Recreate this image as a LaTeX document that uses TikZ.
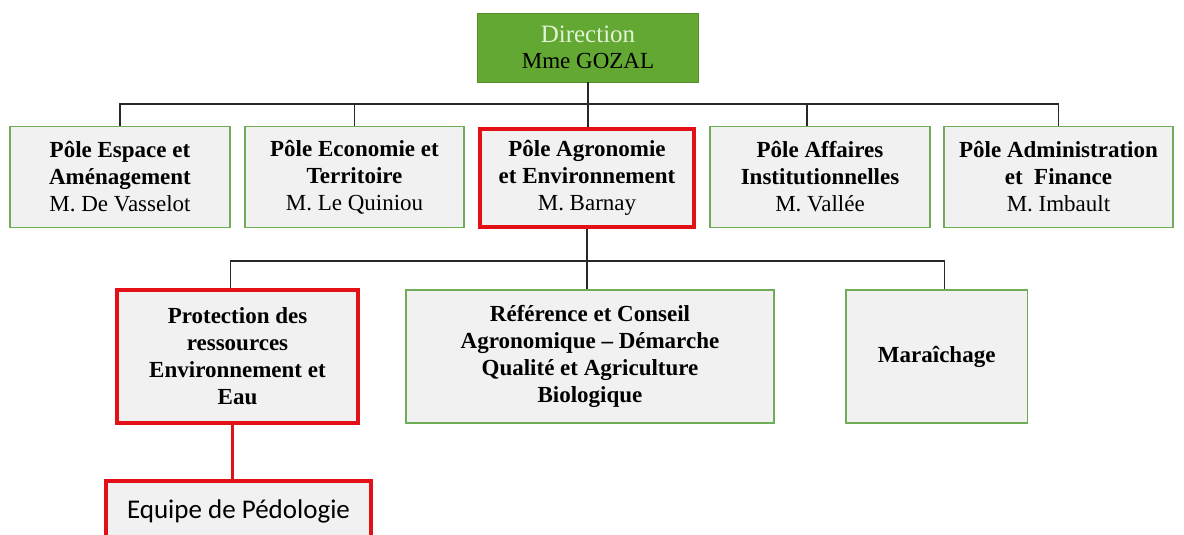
\documentclass[tikz,border=0pt]{standalone}
\usepackage{fontspec}
\setmainfont{Liberation Serif}
\newfontfamily\calibri{Carlito}
\definecolor{dirgreen}{RGB}{100,168,52}
\definecolor{dirtext}{RGB}{226,242,212}
\definecolor{boxgreen}{RGB}{110,172,88}
\definecolor{boxfill}{RGB}{241,241,241}
\definecolor{framered}{RGB}{228,16,24}
\definecolor{busgray}{RGB}{40,40,40}

\begin{document}
\begin{tikzpicture}[x=1pt,y=-1pt,
  every node/.style={black,align=center,inner sep=0pt,font=\fontsize{23}{27}\selectfont},
  dirbox/.style={fill=dirgreen,draw=dirgreen!85!black,line width=0.8pt,minimum width=221pt,minimum height=69pt},
  pole/.style={draw=boxgreen,line width=1.2pt,fill=boxfill,minimum height=101pt},
  service/.style={pole,minimum height=133pt},
  framed/.style={draw=framered,line width=4pt,fill=boxfill},
  link/.style={draw=busgray,line width=1.4pt},
  redlink/.style={draw=framered,line width=3pt}]
\useasboundingbox (0,0) rectangle (1184,535);

\node[dirbox] (dir) at (588,47.5) {{\fontsize{25}{26}\selectfont\color{dirtext}Direction}\\[-1pt]Mme GOZAL};

\node[pole,minimum width=220pt] (espace) at (120,177) {\textbf{Pôle Espace et}\\\textbf{Aménagement}\\M. De Vasselot};
\node[pole,minimum width=219pt] (eco) at (354.5,177) {\textbf{Pôle Economie et}\\\textbf{Territoire}\\M. Le Quiniou};
\node[framed,minimum width=214pt,minimum height=98pt] (agro) at (587,177.5) {\textbf{Pôle Agronomie}\\\textbf{et Environnement}\\M. Barnay};
\node[pole,minimum width=220pt] (aff) at (820,177) {\textbf{Pôle Affaires}\\\textbf{Institutionnelles}\\M. Vallée};
\node[pole,minimum width=229pt] (adm) at (1058.5,177) {\textbf{Pôle Administration}\\\textbf{et~~Finance}\\M. Imbault};

\node[framed,minimum width=241pt,minimum height=133pt] (prot) at (237.5,356.5) {\textbf{Protection des}\\\textbf{ressources}\\\textbf{Environnement et}\\\textbf{Eau}};
\node[service,minimum width=368pt] (ref) at (590,356.5) {\textbf{Référence et Conseil}\\\textbf{Agronomique – Démarche}\\\textbf{Qualité et Agriculture}\\\textbf{Biologique}};
\node[service,minimum width=181.5pt] (mar) at (936.7,356.5) {\textbf{Maraîchage}};

\node[framed,minimum width=265pt,minimum height=60pt,font=\calibri\fontsize{27}{30}\selectfont] (pedo) at (238.5,511) {Equipe de Pédologie};

\draw[link] (espace.north) -- ++(0,-22) coordinate (top) -| (adm.north);
\draw[link] (eco.north) -- (eco.north |- top);
\draw[link] ([xshift=-13pt]aff.north) -- ([xshift=-13pt]aff.north |- top);
\draw[link] (dir.south) -- (dir.south |- agro.north);

\draw[link] ([xshift=-7pt]prot.north) -- ++(0,-27) coordinate (mid) -| ([xshift=8pt]mar.north);
\draw[link] (agro.south) -- (agro.south |- ref.north);

\draw[redlink] ([xshift=-5pt]prot.south) -- ([xshift=-5pt]prot.south |- pedo.north);
\end{tikzpicture}
\end{document}
